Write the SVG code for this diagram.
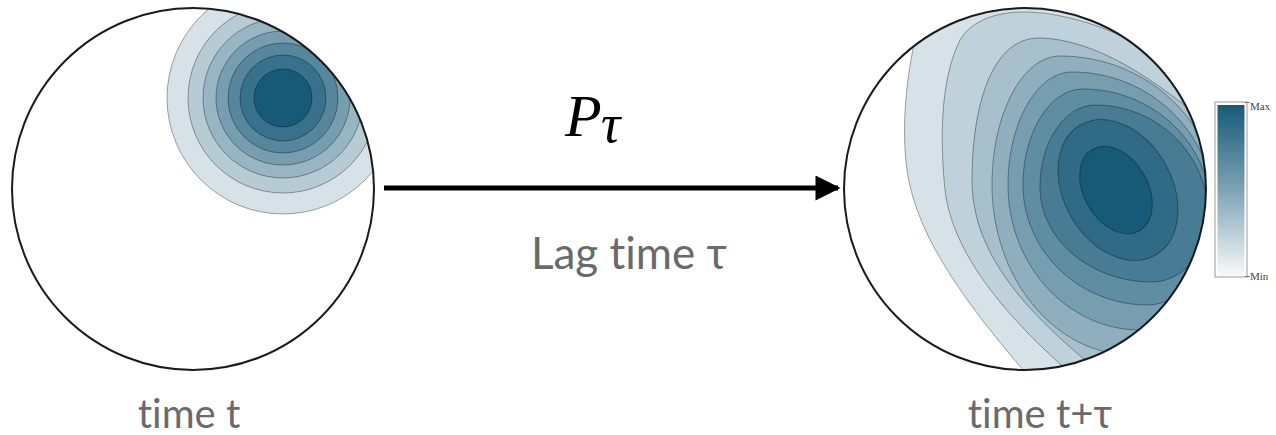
<svg xmlns="http://www.w3.org/2000/svg" width="1276" height="435" viewBox="0 0 1276 435">
  <style>
    .c { stroke: #000; stroke-opacity: 0.35; stroke-width: 1; }
    .rim { fill: none; stroke: #1a1a1a; stroke-width: 2; }
    .lbl { font-family: Lato, "Open Sans", "Liberation Sans", sans-serif; font-weight: 400; fill: #6a6a6a; font-variant-ligatures: none; font-feature-settings: "liga" 0, "clig" 0; }
    .cb { font-family: "Liberation Serif", serif; font-size: 11px; fill: #444; }
    .math { font-family: "Liberation Serif", serif; font-style: italic; fill: #000; }
  </style>
  <defs>
    <clipPath id="clipL"><circle cx="193" cy="189" r="181"/></clipPath>
    <clipPath id="clipR"><circle cx="1025" cy="189" r="181"/></clipPath>
    <linearGradient id="grad" x1="0" y1="0" x2="0" y2="1">
      <stop offset="0" stop-color="#175a78"/>
      <stop offset="0.5" stop-color="#7ea3b5"/>
      <stop offset="1" stop-color="#f6f9fa"/>
    </linearGradient>
    <marker id="arrow" viewBox="0 0 10 10" refX="9" refY="5" markerWidth="5.4" markerHeight="5" markerUnits="strokeWidth" orient="auto">
      <path d="M0,0 L10,5 L0,10 Z" fill="#000"/>
    </marker>
  </defs>

  <g id="node-time-t">
    <circle cx="193" cy="189" r="181" fill="#fff"/>
    <g clip-path="url(#clipL)">
      <circle class="c" cx="283" cy="98" r="116" fill="#d7e2e8"/>
      <circle class="c" cx="283" cy="98" r="95" fill="#b7cbd5"/>
      <circle class="c" cx="283" cy="98" r="80" fill="#97b5c3"/>
      <circle class="c" cx="283" cy="98" r="67" fill="#779eb0"/>
      <circle class="c" cx="283" cy="98" r="55" fill="#57879d"/>
      <circle class="c" cx="283" cy="98" r="43" fill="#37718b"/>
      <circle class="c" cx="283" cy="98" r="29" fill="#175a78"/>
    </g>
    <circle class="rim" cx="193" cy="189" r="181"/>
    <text class="lbl" x="189" y="428" font-size="40" text-anchor="middle">time t</text>
  </g>

  <g id="node-time-t-tau">
    <circle cx="1025" cy="189" r="181" fill="#fff"/>
    <g clip-path="url(#clipR)">
      <path class="c" fill="#d7e2e8" d="M925,0 L920,20 C903,80 900,150 911,190 C925,245 965,305 1045,395 L1240,395 L1240,0 Z"/>
      <path class="c" fill="#bfd1da" d="M1090,390 C1000,315 952,250 945,190 C940,140 940,80 960,40 C975,15 1010,8 1050,14 C1100,22 1150,45 1200,85 L1240,85 L1240,390 Z"/>
      <path class="c" fill="#a7c0cc" d="M1240,150 C1200,120 1120,40 1040,38 C990,37 972,110 972,180 C972,250 1020,310 1110,380 L1240,380 Z"/>
      <path class="c" fill="#8fafbe" d="M1060,56 C1022.6,56 992,113.5 992,185 C992,278.5 1055,355 1132,355 C1179.3,355 1218,287.5 1218,205 C1218,123 1146.9,56 1060,56 Z"/>
      <path class="c" fill="#779eb0" d="M1072,72 C1036.8,72 1008,122.85 1008,185 C1008,264.75 1067.4,330 1140,330 C1180.7,330 1214,276 1214,210 C1214,134.1 1150.1,72 1072,72 Z"/>
      <path class="c" fill="#5f8da2" d="M1083,89 C1050,89 1023,132.2 1023,185 C1023,251 1079.25,305 1148,305 C1182.65,305 1211,263.15 1211,212 C1211,144.35 1153.4,89 1083,89 Z"/>
      <path class="c" fill="#477c94" d="M1095,105 C1064.75,105 1040,141.9 1040,187 C1040,239.25 1090.4,282 1152,282 C1182.8,282 1208,251.85 1208,215 C1208,154.5 1157.15,105 1095,105 Z"/>
      <ellipse class="c" fill="#2f6b86" cx="1118" cy="190" rx="75" ry="54" transform="rotate(60 1118 190)"/>
      <ellipse class="c" fill="#175a78" cx="1116" cy="190" rx="47" ry="32" transform="rotate(60 1116 190)"/>
    </g>
    <circle class="rim" cx="1025" cy="189" r="181"/>
    <text class="lbl" x="1040" y="428" font-size="40" text-anchor="middle">time t+τ</text>
  </g>

  <g id="colorbar">
    <rect x="1215" y="102" width="32" height="175" fill="none" stroke="#999" stroke-width="1"/>
    <rect x="1217.5" y="105" width="27" height="170" fill="url(#grad)"/>
    <line x1="1245" y1="102.5" x2="1250" y2="102.5" stroke="#777" stroke-width="1"/>
    <line x1="1245" y1="276.5" x2="1250" y2="276.5" stroke="#777" stroke-width="1"/>
    <text class="cb" x="1250" y="110">Max</text>
    <text class="cb" x="1250" y="280">Min</text>
  </g>

  <g id="connectors">
    <line x1="384" y1="188" x2="838" y2="188" stroke="#000" stroke-width="5" marker-end="url(#arrow)"/>
    <text class="math" x="565" y="136" font-size="60">P</text>
    <text class="math" x="601" y="142" font-size="54">τ</text>
    <text class="lbl" x="629" y="269" font-size="44" text-anchor="middle">Lag time τ</text>
  </g>
</svg>
